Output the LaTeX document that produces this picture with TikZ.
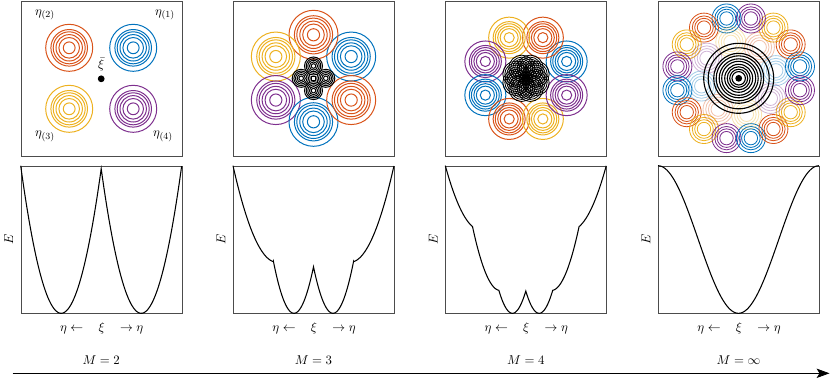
\documentclass[tikz,border=0pt]{standalone}
\usetikzlibrary{arrows.meta}
\definecolor{mblue}{RGB}{0,114,189}
\definecolor{morange}{RGB}{217,83,25}
\definecolor{myellow}{RGB}{237,177,32}
\definecolor{mpurple}{RGB}{126,47,142}
\newcommand{\ringsat}[4]{\foreach \rr in {#4}{\draw[ring,#3] ({#1},{#2}) circle[radius=\rr];}}
\begin{document}
\begin{tikzpicture}[x=0.03cm,y=-0.03cm,
  frame/.style={draw=black!70, line width=0.6pt, minimum width=4.83cm, inner sep=0pt, anchor=north west},
  topframe/.style={frame, minimum height=4.647cm},
  botframe/.style={frame, minimum height=4.428cm},
  curve/.style={line width=0.9pt, black},
  ring/.style={line width=0.85pt},
  thinring/.style={line width=0.7pt},
  lbl/.style={inner sep=0pt, font=\fontsize{11.3}{13.5}\selectfont}]
\useasboundingbox (0,0) rectangle (830,379);

% ---------- frames ----------
\node[topframe] (t1) at (20.7,0.8) {};
\node[topframe] (t2) at (233,0.8) {};
\node[topframe] (t3) at (445.3,0.8) {};
\node[topframe] (t4) at (658,0.8) {};
\node[botframe] (b1) at (20.7,165.7) {};
\node[botframe] (b2) at (233,165.7) {};
\node[botframe] (b3) at (445.3,165.7) {};
\node[botframe] (b4) at (658,165.7) {};

% ---------- panel 1 ----------
\ringsat{133.2}{47.8}{mblue}{23.5,18.3,16,13.2,10.3,5.9}
\ringsat{69.2}{47.8}{morange}{23.5,18.3,16,13.2,10.3,5.9}
\ringsat{69.2}{108.8}{myellow}{23.5,18.3,16,13.2,10.3,5.9}
\ringsat{133.2}{108.8}{mpurple}{23.5,18.3,16,13.2,10.3,5.9}
\fill (101.2,78.8) circle[radius=3.4];
\node[lbl] (xib) at (101.2,64.5) {$\bar\xi$};
\node[lbl] (e1) at (165,15) {$\eta_{(1)}$};
\node[lbl] (e2) at (45,15) {$\eta_{(2)}$};
\node[lbl] (e3) at (45,136.5) {$\eta_{(3)}$};
\node[lbl] (e4) at (163,136.5) {$\eta_{(4)}$};

% ---------- panel 2 ----------
\foreach \a/\c in {30/mblue,90/morange,150/myellow,210/mpurple,270/mblue,330/morange}{
  \ringsat{313.5+43.5*cos(\a)}{78.3-43.5*sin(\a)}{\c}{24.5,19.1,16.7,13.7,10.8,6.1}}
\foreach \a in {0,90,180,270}{
  \ringsat{313.5+12.3*cos(\a)}{78.3-12.3*sin(\a)}{black}{9,7.3,5.7,4.1,2.3}}
\draw[ring] (311.8,76.6) rectangle (315.2,80);

% ---------- panel 3 ----------
\foreach \a/\c in {22.5/mblue,67.5/morange,112.5/myellow,157.5/mpurple,202.5/mblue,247.5/morange,292.5/myellow,337.5/mpurple}{
  \ringsat{526+44*cos(\a)}{78.3-44*sin(\a)}{\c}{20.5,16,13.9,11.5,9,5.1}}
\foreach \a in {22.5,67.5,112.5,157.5,202.5,247.5,292.5,337.5}{
  \ringsat{526+11*cos(\a)}{78.3-11*sin(\a)}{black,thinring}{13,11,9,7,5,3}}

% ---------- panel 4 ----------
\foreach \a/\c in {11.25/mblue,33.75/morange,56.25/myellow,78.75/mpurple,101.25/mblue,123.75/morange,146.25/myellow,168.75/mpurple,191.25/mblue,213.75/morange,236.25/myellow,258.75/mpurple,281.25/mblue,303.75/morange,326.25/myellow,348.75/mpurple}{
  \ringsat{738.7+62.5*cos(\a)}{78.3-61*sin(\a)}{\c,thinring}{14.5,11.7,9.3,6.7}}
\foreach \a/\c in {12/mblue,57/morange,102/myellow,147/mpurple,192/mblue,237/morange,282/myellow,327/mpurple}{
  \ringsat{738.7+38*cos(\a)}{78.3-37*sin(\a)}{\c,thinring,opacity=0.35}{15,12.3,9.6,7}}
\ringsat{738.7}{78.3}{black,line width=0.95pt}{35,30.5,25,22.5,19.5,17,14,11.5,9,6.7}
\fill (738.7,78.3) circle[radius=3.4];

% ---------- energy curves ----------
\begin{scope}[shift={(20.7,313.3)}, xscale=161, yscale=-147.6]
  \draw[curve] plot[domain=0:0.5, samples=60] (\x,{15.83*(\x-0.2513)*(\x-0.2513)})
    -- plot[domain=0.5:1, samples=60] (\x,{15.83*(\x-0.7487)*(\x-0.7487)});
\end{scope}
\begin{scope}[shift={(233,313.3)}, xscale=161, yscale=-147.6]
  \draw[curve] plot[domain=0:0.251, samples=40] (\x,{0.3468+8.96*(\x-0.27)*(\x-0.27)})
    -- plot[domain=0.251:0.5, samples=40] (\x,{21.5*(\x-0.379)*(\x-0.379)})
    -- plot[domain=0.5:0.749, samples=40] (\x,{21.5*(\x-0.621)*(\x-0.621)})
    -- plot[domain=0.749:1, samples=40] (\x,{0.3468+8.96*(\x-0.73)*(\x-0.73)});
\end{scope}
\begin{scope}[shift={(445.3,313.3)}, xscale=161, yscale=-147.6]
  \draw[curve] plot[domain=0:0.169, samples=30] (\x,{0.564+9.02*(\x-0.22)*(\x-0.22)})
    -- plot[domain=0.169:0.333, samples=30] (\x,{0.155+14.8*(\x-0.34)*(\x-0.34)})
    -- plot[domain=0.333:0.5, samples=30] (\x,{21.9*(\x-0.417)*(\x-0.417)})
    -- plot[domain=0.5:0.667, samples=30] (\x,{21.9*(\x-0.583)*(\x-0.583)})
    -- plot[domain=0.667:0.831, samples=30] (\x,{0.155+14.8*(\x-0.66)*(\x-0.66)})
    -- plot[domain=0.831:1, samples=30] (\x,{0.564+9.02*(\x-0.78)*(\x-0.78)});
\end{scope}
\begin{scope}[shift={(658,313.3)}, xscale=161, yscale=-147.6]
  \draw[curve] plot[domain=0:1, samples=120] (\x,{(1+cos(360*\x))/2});
\end{scope}

% ---------- axis labels ----------
\foreach \L/\n/\m in {20.7/1/2,233/2/3,445.3/3/4,658/4/\infty}{
  \node[lbl, rotate=90] (E\n) at (\L-12,239.5) {$E$};
  \node[lbl] (x\n) at (\L+81,328) {$\eta\leftarrow\hspace{10pt}\xi\hspace{10pt}\rightarrow\eta$};
  \node[lbl] (M\n) at (\L+80.5,360.5) {$M=\m$};
}

% ---------- bottom arrow ----------
\coordinate (aL) at (12.7,373.3);
\coordinate (aR) at (829.5,373.3);
\draw[line width=0.7pt, -{Stealth[length=11pt,width=8pt,inset=2.5pt]}] (aL) -- (aR);
\end{tikzpicture}
\end{document}
